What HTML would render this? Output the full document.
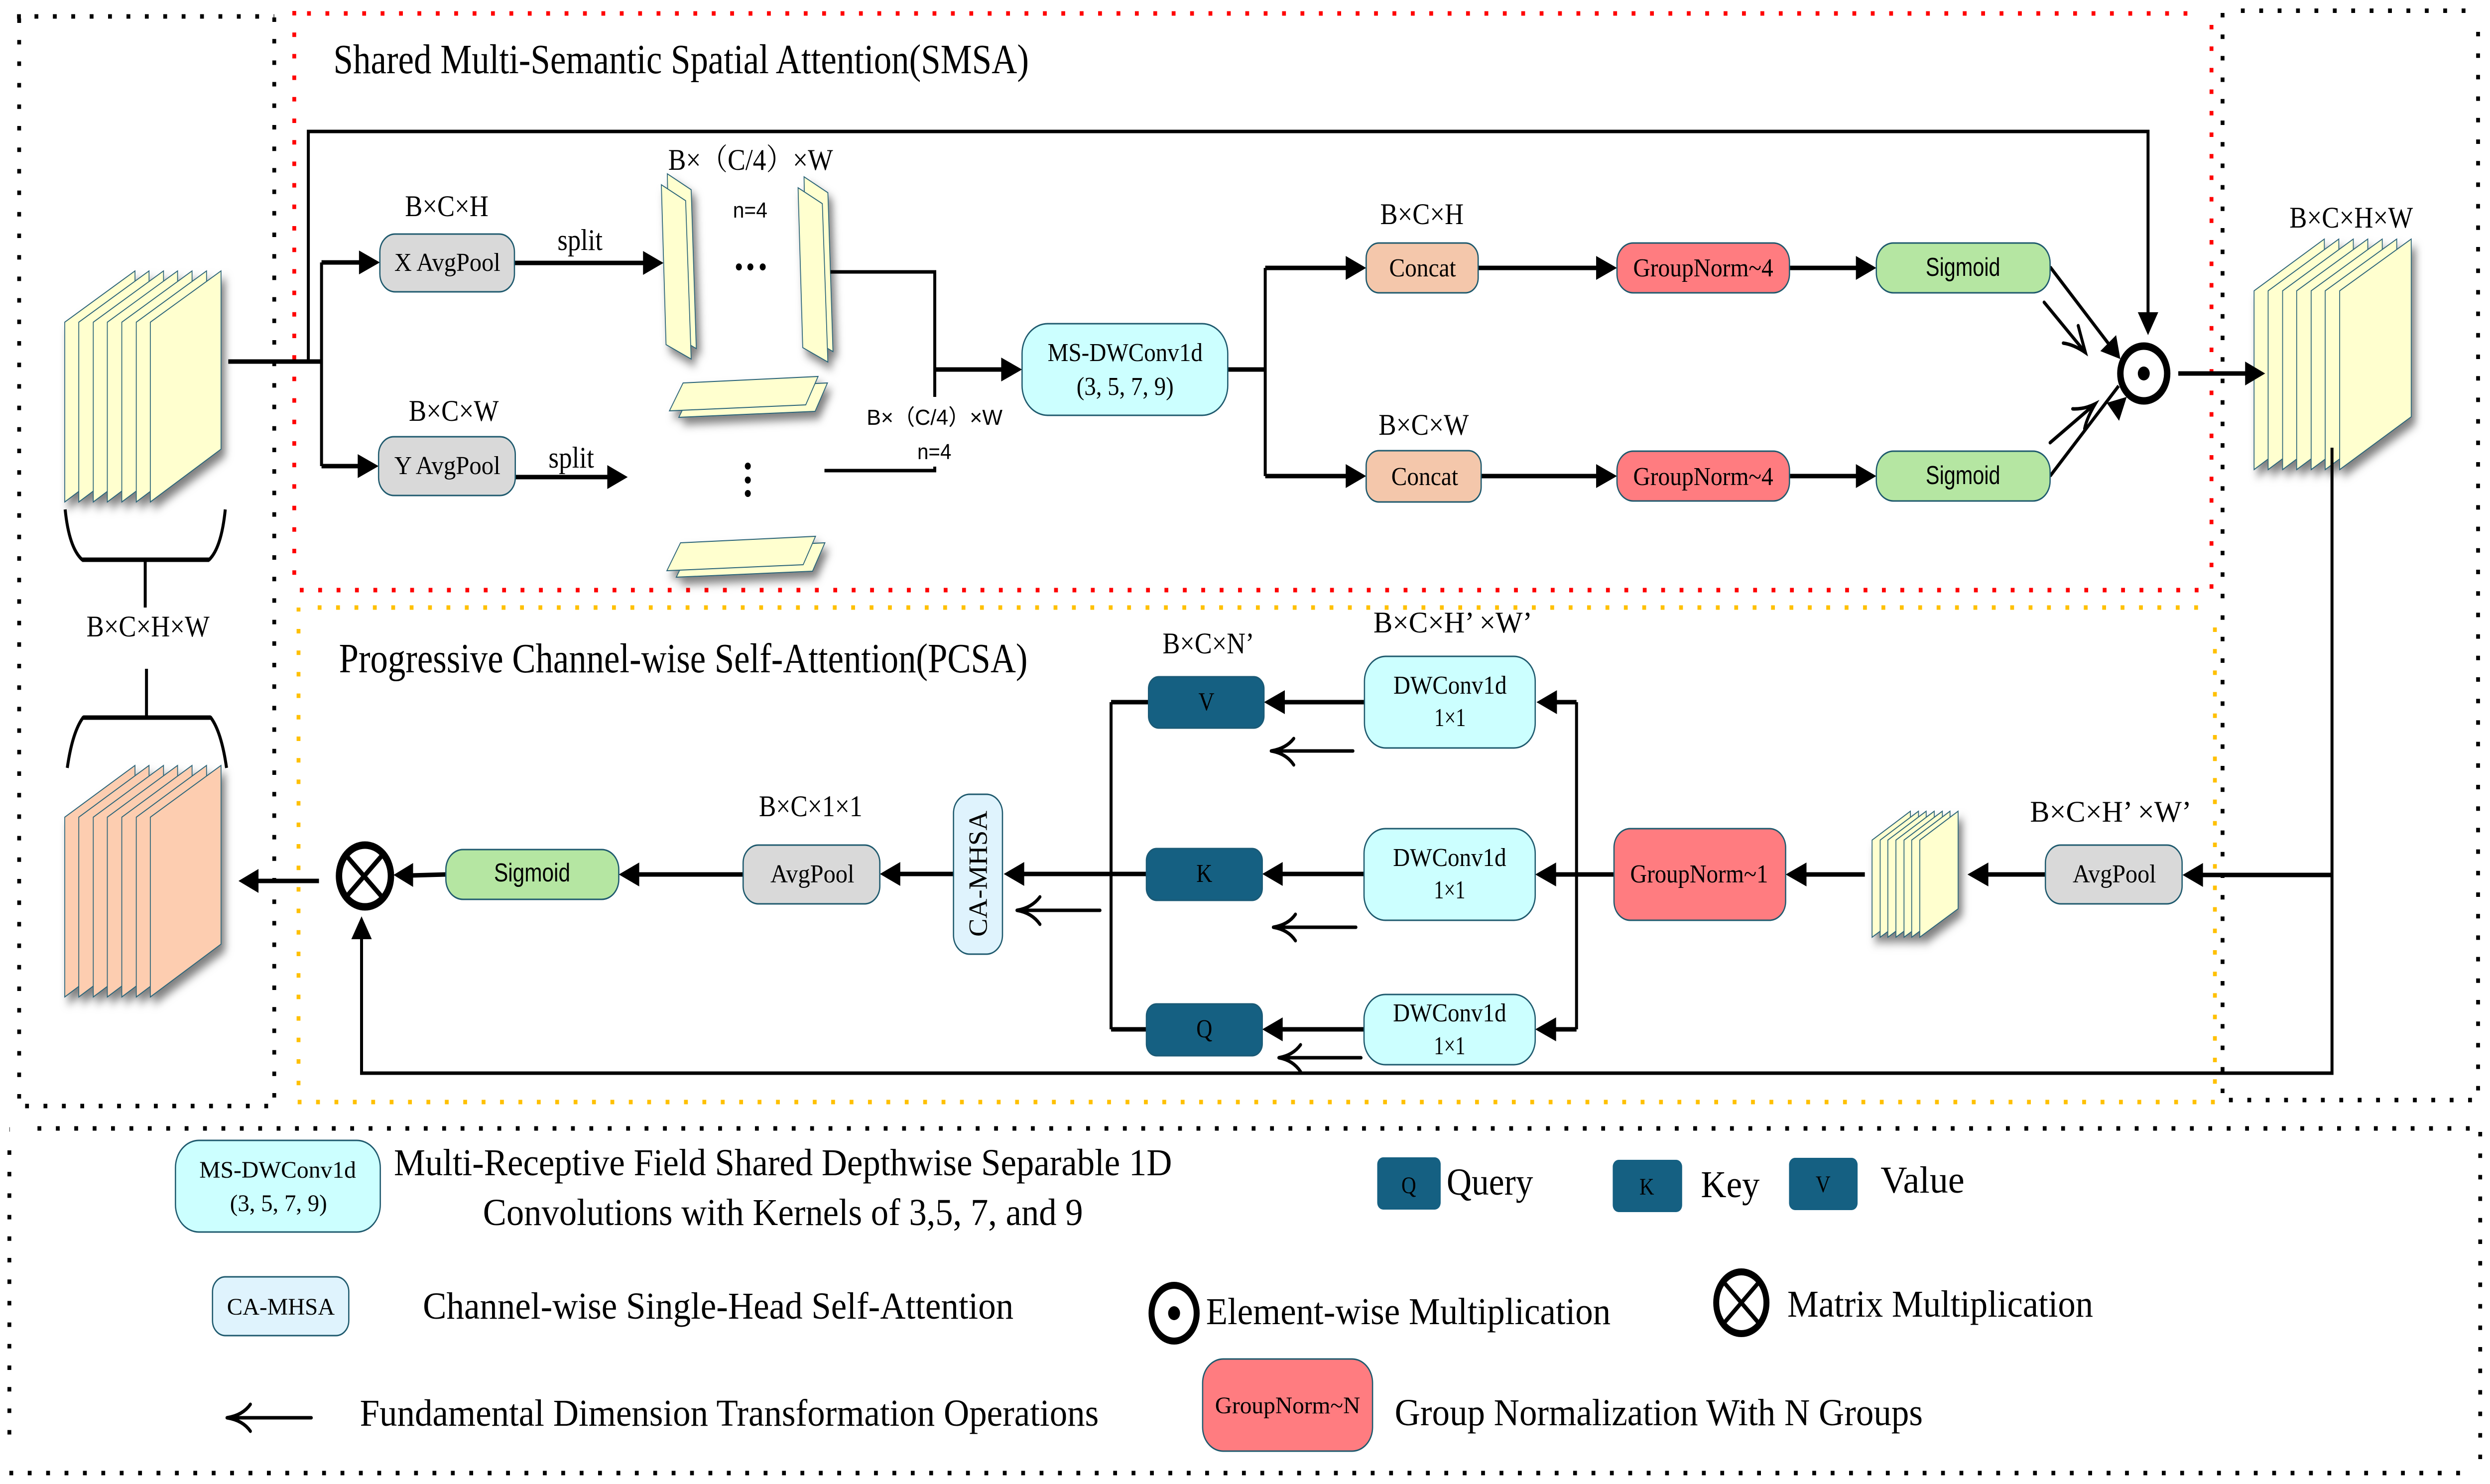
<!DOCTYPE html>
<html><head><meta charset="utf-8"><title>SMSA and PCSA diagram</title>
<style>
html,body{margin:0;padding:0;background:#fff;width:100%;height:100%;overflow:hidden}
svg{display:block;width:100vw;height:100vh}
text{fill:#000;font-family:"Liberation Serif","Noto Serif CJK SC",serif}
.sans{font-family:"Liberation Sans","Noto Sans CJK SC",sans-serif}
.t84{font-size:84px}.t76{font-size:76px}.t60{font-size:60px}.t52{font-size:52px}.t48{font-size:48px}.t44{font-size:44px}
.l{stroke:#000;fill:none;stroke-width:7;stroke-linecap:butt}
.h{stroke:#000;fill:none;stroke-width:9}
.o{stroke:#000;fill:none;stroke-width:7;stroke-linecap:round}
.b{stroke:#1f5a6e;stroke-width:3}
.sy polygon{fill:#ffffcf;stroke:#2a6478;stroke-width:2}
.so polygon{fill:#fdcdb0;stroke:#2a6478;stroke-width:2}
.d{fill:none;stroke-width:9;stroke-dasharray:9 34.2}
.k{stroke:#000}.r{stroke:#f00}.y{stroke:#ffc000}
</style></head><body>
<svg xmlns="http://www.w3.org/2000/svg" viewBox="0 0 5847 2980" preserveAspectRatio="none">
<defs><filter id="sh" x="-20%" y="-20%" width="150%" height="150%"><feDropShadow dx="9" dy="14" stdDeviation="9" flood-color="#000" flood-opacity=".5"/></filter></defs>
<rect width="5847" height="2980" fill="#fff"/>

<!-- dotted frames -->
<g class="d k">
<path d="M81 33H644"/><path d="M45 37V2221"/><path d="M644 35V2221"/><path d="M59 2221H632"/><path d="M40 33h9"/>
<path d="M5262 21.500H5821"/><path d="M5219 26V2205"/><path d="M5819 64V2205"/><path d="M5234 2209H5805"/>
<path d="M88 2266H5800"/><path d="M22 2268h1"/><path d="M22 2310V2890"/><path d="M5824 2273V2930"/><path d="M22 2958H5800"/>
</g>
<g class="d r">
<path d="M721 27H5170"/><path d="M691 22V1170"/><path d="M5193 50V1190"/><path d="M704 1185H5165"/>
</g>
<g class="d y">
<path d="M746 1220H5165"/><path d="M701 1263V2190"/><path d="M5201 1260V2190"/><path d="M699 2213H5210"/><path d="M701 1220v8"/>
</g>

<!-- titles -->
<text class="t84" x="783" y="147" textLength="1633" lengthAdjust="spacingAndGlyphs">Shared Multi-Semantic Spatial Attention(SMSA)</text>
<text class="t84" x="796" y="1350" textLength="1617" lengthAdjust="spacingAndGlyphs">Progressive Channel-wise Self-Attention(PCSA)</text>

<!-- left yellow stack -->
<g class="sy" filter="url(#sh)">
<polygon points="152,647 317,544 317,902 152,1008"/><polygon points="185,647 350,544 350,902 185,1008"/><polygon points="219,647 384,544 384,902 219,1008"/><polygon points="252,647 417,544 417,902 252,1008"/><polygon points="286,647 451,544 451,902 286,1008"/><polygon points="320,647 485,544 485,902 320,1008"/><polygon points="353,647 519,544 519,902 353,1008"/>
</g>
<!-- orange stack -->
<g class="so" filter="url(#sh)">
<polygon points="152,1641 317,1537 317,1896 152,2002"/><polygon points="185,1641 350,1537 350,1896 185,2002"/><polygon points="219,1641 384,1537 384,1896 219,2002"/><polygon points="252,1641 417,1537 417,1896 252,2002"/><polygon points="286,1641 451,1537 451,1896 286,2002"/><polygon points="320,1641 485,1537 485,1896 320,2002"/><polygon points="353,1641 519,1537 519,1896 353,2002"/>
</g>
<!-- right stack -->
<g class="sy" filter="url(#sh)">
<polygon points="5293,584 5458,480 5458,837 5293,943"/><polygon points="5326,584 5492,480 5492,837 5326,943"/><polygon points="5360,584 5526,480 5526,837 5360,943"/><polygon points="5393,584 5560,480 5560,837 5393,943"/><polygon points="5427,584 5594,480 5594,837 5427,943"/><polygon points="5460,584 5628,480 5628,837 5460,943"/><polygon points="5494,584 5662,480 5662,837 5494,943"/>
</g>
<!-- small stack -->
<g class="sy" filter="url(#sh)">
<polygon points="4396,1687 4486,1629 4486,1825 4396,1882"/><polygon points="4415,1687 4505,1629 4505,1825 4415,1882"/><polygon points="4433,1687 4523,1629 4523,1825 4433,1882"/><polygon points="4452,1687 4542,1629 4542,1825 4452,1882"/><polygon points="4471,1687 4561,1629 4561,1825 4471,1882"/><polygon points="4489,1687 4579,1629 4579,1825 4489,1882"/><polygon points="4508,1687 4598,1629 4598,1825 4508,1882"/>
</g>
<!-- split sheets -->
<g class="sy" filter="url(#sh)">
<polygon points="1567,349 1623,381 1635,700 1575,670"/><polygon points="1553,371 1610,403 1623,721 1564,692"/>
<polygon points="1888,355 1944,387 1956,706 1896,676"/><polygon points="1874,377 1931,409 1944,727 1885,698"/>
<polygon points="1626,782 1943,769 1914,826 1594,838"/><polygon points="1604,769 1921,756 1892,813 1572,825"/>
<polygon points="1620,1103 1937,1090 1908,1147 1588,1159"/><polygon points="1598,1090 1915,1077 1886,1134 1566,1146"/>
</g>
<g fill="#000"><circle cx="1735" cy="536" r="7"/><circle cx="1762" cy="536" r="7"/><circle cx="1791" cy="536" r="7"/><circle cx="1756" cy="936" r="7"/><circle cx="1756" cy="964" r="7"/><circle cx="1756" cy="991" r="7"/></g>

<!-- braces -->
<path class="l" d="M153 1023Q162 1100 193 1124H491Q520 1100 529 1023"/>
<path class="l" d="M341 1124V1220M344 1343V1441"/>
<path class="l" d="M158 1542Q170 1470 195 1441H495Q520 1470 532 1542"/>
<path class="h" d="M193 1124H491M195 1441H495"/>
<text class="t60" x="203" y="1278" textLength="289" lengthAdjust="spacingAndGlyphs">B×C×H×W</text>

<!-- SMSA connectors -->
<path class="h" d="M536 726H755M755 527H850M755 936H845M1209 528H1515M1210 958H1430M2195 742H2355M2883 742H2971M2971 538H3165M2971 956H3165M3471 538H3755M3478 956H3755M4202 538H4365M4202 956H4365M5115 750H5280"/>
<path class="l" d="M724 726V264H5044V630M755 527V936M1950 546H2195V797M1936 945H2195V937M2971 538V956M4814 536L4960 700M4814 956L4975 775"/>
<g fill="#000">
<polygon points="892,527 843,503 843,551"/><polygon points="889,936 840,912 840,960"/>
<polygon points="1558,528 1510,504 1510,552"/><polygon points="1474,958 1426,934 1426,982"/>
<polygon points="2400,742 2351,718 2351,766"/>
<polygon points="3208,538 3160,514 3160,562"/><polygon points="3208,956 3160,932 3160,980"/>
<polygon points="3797,538 3748,514 3748,562"/><polygon points="3797,956 3748,932 3748,980"/>
<polygon points="4406,538 4358,514 4358,562"/><polygon points="4406,956 4358,932 4358,980"/>
<polygon points="5044,673 5020,627 5068,627"/>
<polygon points="4979,721 4969,673 4932,705"/><polygon points="4994,797 4947,809 4976,845"/>
<polygon points="5319,750 5272,726 5272,774"/>
</g>
<path class="o" d="M4800 607L4897 708M4880 654Q4888 680 4897 708Q4870 692 4845 689M4814 889L4920 811M4867 821Q4895 822 4920 811Q4900 840 4895 861"/>

<!-- SMSA nodes -->
<rect class="b" x="892" y="470" width="316" height="116" rx="36" fill="#d9d9d9"/>
<rect class="b" x="889" y="877" width="321" height="118" rx="36" fill="#d9d9d9"/>
<rect class="b" x="2400" y="650" width="483" height="184" rx="60" fill="#ccffff"/>
<rect class="b" x="3208" y="488" width="263" height="100" rx="30" fill="#f4c7ab"/>
<rect class="b" x="3208" y="905" width="270" height="103" rx="30" fill="#f4c7ab"/>
<rect class="b" x="3797" y="488" width="405" height="100" rx="38" fill="#ff7c80"/>
<rect class="b" x="3797" y="906" width="405" height="100" rx="38" fill="#ff7c80"/>
<rect class="b" x="4406" y="488" width="408" height="100" rx="40" fill="#b5e6a2"/>
<rect class="b" x="4406" y="906" width="408" height="100" rx="40" fill="#b5e6a2"/>
<circle cx="5034" cy="750" r="55" fill="#fff" stroke="#000" stroke-width="15"/><circle cx="5034" cy="750" r="14" fill="#000"/>

<!-- SMSA text -->
<text class="t52" x="926" y="544" textLength="249" lengthAdjust="spacingAndGlyphs">X AvgPool</text>
<text class="t52" x="926" y="952" textLength="249" lengthAdjust="spacingAndGlyphs">Y AvgPool</text>
<text class="t60" x="951" y="434" textLength="196" lengthAdjust="spacingAndGlyphs">B×C×H</text>
<text class="t60" x="960" y="845" textLength="211" lengthAdjust="spacingAndGlyphs">B×C×W</text>
<text class="t60" x="1309" y="502" textLength="106" lengthAdjust="spacingAndGlyphs">split</text>
<text class="t60" x="1288" y="939" textLength="107" lengthAdjust="spacingAndGlyphs">split</text>
<text class="t60" x="1569" y="341" textLength="387" lengthAdjust="spacingAndGlyphs">B×（C/4）×W</text>
<text class="t44 sans" x="1721" y="437" textLength="81" lengthAdjust="spacingAndGlyphs">n=4</text>
<text class="t44 sans" x="2035" y="853" textLength="319" lengthAdjust="spacingAndGlyphs">B×（C/4）×W</text>
<text class="t44 sans" x="2154" y="922" textLength="80" lengthAdjust="spacingAndGlyphs">n=4</text>
<text class="t52" x="2460" y="725" textLength="364" lengthAdjust="spacingAndGlyphs">MS-DWConv1d</text>
<text class="t52" x="2528" y="793" textLength="228" lengthAdjust="spacingAndGlyphs">(3, 5, 7, 9)</text>
<text class="t60" x="3241" y="450" textLength="196" lengthAdjust="spacingAndGlyphs">B×C×H</text>
<text class="t60" x="3237" y="873" textLength="212" lengthAdjust="spacingAndGlyphs">B×C×W</text>
<text class="t52" x="3262" y="555" textLength="157" lengthAdjust="spacingAndGlyphs">Concat</text>
<text class="t52" x="3267" y="974" textLength="157" lengthAdjust="spacingAndGlyphs">Concat</text>
<text class="t52" x="3835" y="555" textLength="329" lengthAdjust="spacingAndGlyphs">GroupNorm~4</text>
<text class="t52" x="3835" y="974" textLength="329" lengthAdjust="spacingAndGlyphs">GroupNorm~4</text>
<text class="t52 sans" x="4522" y="554" textLength="175" lengthAdjust="spacingAndGlyphs">Sigmoid</text>
<text class="t52 sans" x="4522" y="972" textLength="175" lengthAdjust="spacingAndGlyphs">Sigmoid</text>
<text class="t60" x="5376" y="457" textLength="290" lengthAdjust="spacingAndGlyphs">B×C×H×W</text>

<!-- PCSA connectors -->
<path class="l" d="M5476 899V2155H849V1880M3702 1410V2067M2609 1410V2067"/>
<path class="h" d="M5476 1757H5165M4803 1756H4660M4379 1756H4235M3790 1756H3645M3702 1410H3650M3702 2067H3650M3204 1410H3010M3204 1755H3005M3204 2067H3005M2697 1410H2609M2692 1755H2395M2692 2067H2609M2239 1755H2105M1745 1756H1495M1047 1756L965 1758M749 1769H600"/>
<g fill="#000">
<polygon points="5125,1757 5173,1733 5173,1781"/><polygon points="4620,1756 4669,1732 4669,1780"/><polygon points="4193,1756 4242,1732 4242,1780"/>
<polygon points="3605,1756 3654,1732 3654,1780"/><polygon points="3608,1410 3656,1386 3656,1434"/><polygon points="3605,2067 3654,2043 3654,2091"/>
<polygon points="2968,1410 3017,1386 3017,1434"/><polygon points="2964,1755 3012,1731 3012,1779"/><polygon points="2964,2067 3012,2043 3012,2091"/>
<polygon points="2357,1755 2405,1731 2405,1779"/><polygon points="2066,1755 2114,1731 2114,1779"/><polygon points="1453,1756 1501,1732 1501,1780"/>
<polygon points="924,1757 970,1733 970,1781"/><polygon points="560,1769 607,1745 607,1793"/><polygon points="849,1840 825,1886 873,1886"/>
</g>
<path class="o" d="M3177 1508H2985M3038 1483Q3020 1503 2985 1508Q3020 1513 3038 1536M3184 1862H2990M3042 1836Q3025 1857 2990 1862Q3025 1867 3042 1889M3196 2124H3003M3054 2098Q3036 2119 3003 2124Q3036 2129 3054 2152M2583 1828H2388M2442 1801Q2423 1823 2388 1828Q2423 1833 2442 1856"/>

<!-- PCSA nodes -->
<rect class="b" x="4803" y="1697" width="321" height="118" rx="36" fill="#d9d9d9"/>
<rect class="b" x="3790" y="1664" width="403" height="184" rx="38" fill="#ff7c80"/>
<rect class="b" x="3204" y="1318" width="401" height="184" rx="50" fill="#ccffff"/>
<rect class="b" x="3203" y="1664" width="402" height="184" rx="50" fill="#ccffff"/>
<rect class="b" x="3203" y="1997" width="402" height="141" rx="50" fill="#ccffff"/>
<rect x="2697" y="1359" width="271" height="103" rx="24" fill="#156082" stroke="#1a5a76" stroke-width="3"/>
<rect x="2692" y="1704" width="272" height="104" rx="24" fill="#156082" stroke="#1a5a76" stroke-width="3"/>
<rect x="2692" y="2016" width="272" height="104" rx="24" fill="#156082" stroke="#1a5a76" stroke-width="3"/>
<rect class="b" x="2239" y="1595" width="115" height="321" rx="38" fill="#dff3fd"/>
<rect class="b" x="1745" y="1697" width="321" height="118" rx="36" fill="#d9d9d9"/>
<rect class="b" x="1047" y="1706" width="406" height="100" rx="40" fill="#b5e6a2"/>
<ellipse cx="857" cy="1759" rx="61" ry="62" fill="#fff" stroke="#000" stroke-width="15"/>
<path d="M808 1713L902 1806M902 1713L808 1806" stroke="#000" stroke-width="10" fill="none"/>

<!-- PCSA text -->
<text class="t60" x="4767" y="1650" textLength="379" lengthAdjust="spacingAndGlyphs">B×C×H’ ×W’</text>
<text class="t52" x="4867" y="1772" textLength="196" lengthAdjust="spacingAndGlyphs">AvgPool</text>
<text class="t52" x="3828" y="1772" textLength="324" lengthAdjust="spacingAndGlyphs">GroupNorm~1</text>
<text class="t60" x="3225" y="1270" textLength="373" lengthAdjust="spacingAndGlyphs">B×C×H’ ×W’</text>
<text class="t60" x="2730" y="1312" textLength="215" lengthAdjust="spacingAndGlyphs">B×C×N’</text>
<text class="t52" x="3272" y="1393" textLength="266" lengthAdjust="spacingAndGlyphs">DWConv1d</text>
<text class="t52" x="3368" y="1458" textLength="74" lengthAdjust="spacingAndGlyphs">1×1</text>
<text class="t52" x="3271" y="1739" textLength="266" lengthAdjust="spacingAndGlyphs">DWConv1d</text>
<text class="t52" x="3367" y="1804" textLength="74" lengthAdjust="spacingAndGlyphs">1×1</text>
<text class="t52" x="3271" y="2051" textLength="266" lengthAdjust="spacingAndGlyphs">DWConv1d</text>
<text class="t52" x="3367" y="2117" textLength="74" lengthAdjust="spacingAndGlyphs">1×1</text>
<text class="t52" x="2833" y="1426" text-anchor="middle">V</text>
<text class="t52" x="2828" y="1771" text-anchor="middle">K</text>
<text class="t52" x="2828" y="2083" text-anchor="middle">Q</text>
<text style="font-size:62px" transform="translate(2317,1881) rotate(-90)" textLength="253" lengthAdjust="spacingAndGlyphs">CA-MHSA</text>
<text class="t60" x="1782" y="1639" textLength="243" lengthAdjust="spacingAndGlyphs">B×C×1×1</text>
<text class="t52" x="1809" y="1772" textLength="197" lengthAdjust="spacingAndGlyphs">AvgPool</text>
<text class="t52 sans" x="1160" y="1770" textLength="179" lengthAdjust="spacingAndGlyphs">Sigmoid</text>

<!-- legend -->
<rect class="b" x="412" y="2290" width="481" height="184" rx="55" fill="#ccffff"/>
<text class="t48" x="468" y="2365" textLength="368" lengthAdjust="spacingAndGlyphs">MS-DWConv1d</text>
<text class="t48" x="540" y="2432" textLength="228" lengthAdjust="spacingAndGlyphs">(3, 5, 7, 9)</text>
<text class="t76" x="925" y="2360" textLength="1827" lengthAdjust="spacingAndGlyphs">Multi-Receptive Field Shared Depthwise Separable 1D</text>
<text class="t76" x="1134" y="2460" textLength="1409" lengthAdjust="spacingAndGlyphs">Convolutions with Kernels of 3,5, 7, and 9</text>
<rect class="b" x="499" y="2564" width="320" height="118" rx="30" fill="#dff3fd"/>
<text class="t48" x="533" y="2640" textLength="253" lengthAdjust="spacingAndGlyphs">CA-MHSA</text>
<text class="t76" x="993" y="2648" textLength="1387" lengthAdjust="spacingAndGlyphs">Channel-wise Single-Head Self-Attention</text>
<path class="o" d="M731 2847H533M588 2820Q570 2842 533 2847Q570 2852 588 2874"/>
<text class="t76" x="845" y="2863" textLength="1735" lengthAdjust="spacingAndGlyphs">Fundamental Dimension Transformation Operations</text>
<rect x="3234" y="2324" width="149" height="105" rx="14" fill="#156082"/>
<text class="t48" x="3308" y="2396" text-anchor="middle">Q</text>
<text class="t76" x="3397" y="2399" textLength="203" lengthAdjust="spacingAndGlyphs">Query</text>
<rect x="3787" y="2329" width="163" height="105" rx="14" fill="#156082"/>
<text class="t48" x="3867" y="2399" text-anchor="middle">K</text>
<text class="t76" x="3994" y="2404" textLength="138" lengthAdjust="spacingAndGlyphs">Key</text>
<rect x="4201" y="2325" width="161" height="105" rx="14" fill="#156082"/>
<text class="t48" x="4281" y="2394" text-anchor="middle">V</text>
<text class="t76" x="4416" y="2395" textLength="197" lengthAdjust="spacingAndGlyphs">Value</text>
<ellipse cx="2757" cy="2637" rx="53" ry="56" fill="#fff" stroke="#000" stroke-width="14"/><circle cx="2757" cy="2637" r="14" fill="#000"/>
<text class="t76" x="2832" y="2659" textLength="950" lengthAdjust="spacingAndGlyphs">Element-wise Multiplication</text>
<ellipse cx="4089" cy="2616" rx="59" ry="62" fill="#fff" stroke="#000" stroke-width="14"/>
<path d="M4043 2570L4135 2662M4135 2570L4043 2662" stroke="#000" stroke-width="9" fill="none"/>
<text class="t76" x="4197" y="2644" textLength="718" lengthAdjust="spacingAndGlyphs">Matrix Multiplication</text>
<rect class="b" x="2824" y="2729" width="399" height="185" rx="48" fill="#ff7c80"/>
<text class="t48" x="2853" y="2838" textLength="341" lengthAdjust="spacingAndGlyphs">GroupNorm~N</text>
<text class="t76" x="3275" y="2862" textLength="1240" lengthAdjust="spacingAndGlyphs">Group Normalization With N Groups</text>
</svg>
</body></html>
